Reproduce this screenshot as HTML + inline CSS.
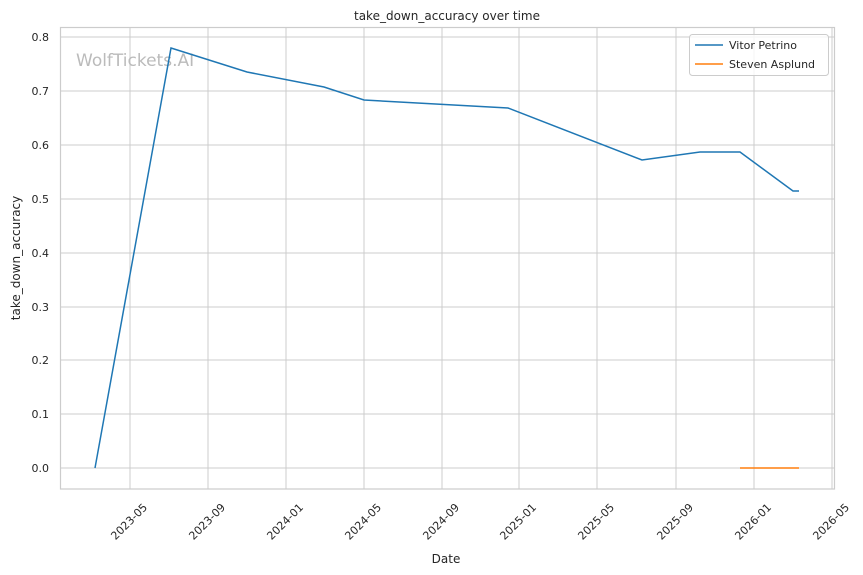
<!DOCTYPE html>
<html><head><meta charset="utf-8"><style>body{margin:0;background:#fff}svg{display:block}text{font-family:"DejaVu Sans","Liberation Sans",sans-serif;fill:#262626}</style></head><body>
<svg width="863" height="575" xmlns="http://www.w3.org/2000/svg">
<rect width="863" height="575" fill="#fff"/>
<g stroke="#cccccc" stroke-width="1">
<line x1="130" y1="27" x2="130" y2="489"/><line x1="208" y1="27" x2="208" y2="489"/><line x1="286" y1="27" x2="286" y2="489"/><line x1="364" y1="27" x2="364" y2="489"/><line x1="442" y1="27" x2="442" y2="489"/><line x1="519" y1="27" x2="519" y2="489"/><line x1="597" y1="27" x2="597" y2="489"/><line x1="676" y1="27" x2="676" y2="489"/><line x1="754" y1="27" x2="754" y2="489"/><line x1="832" y1="27" x2="832" y2="489"/>
<line x1="60" y1="37" x2="835" y2="37"/><line x1="60" y1="91" x2="835" y2="91"/><line x1="60" y1="145" x2="835" y2="145"/><line x1="60" y1="199" x2="835" y2="199"/><line x1="60" y1="253" x2="835" y2="253"/><line x1="60" y1="307" x2="835" y2="307"/><line x1="60" y1="360" x2="835" y2="360"/><line x1="60" y1="414" x2="835" y2="414"/><line x1="60" y1="468" x2="835" y2="468"/>
</g>
<rect x="60.5" y="27.5" width="774" height="461.5" fill="none" stroke="#cccccc" stroke-width="1.2"/>
<g font-size="11" text-anchor="end">
<text x="49" y="41">0.8</text><text x="49" y="95">0.7</text><text x="49" y="149">0.6</text><text x="49" y="203">0.5</text><text x="49" y="257">0.4</text><text x="49" y="311">0.3</text><text x="49" y="364">0.2</text><text x="49" y="418">0.1</text><text x="49" y="472">0.0</text>
</g>
<g font-size="11" text-anchor="end">
<text transform="translate(148,508) rotate(-45)">2023-05</text>
<text transform="translate(226,508) rotate(-45)">2023-09</text>
<text transform="translate(304,508) rotate(-45)">2024-01</text>
<text transform="translate(382,508) rotate(-45)">2024-05</text>
<text transform="translate(460,508) rotate(-45)">2024-09</text>
<text transform="translate(537,508) rotate(-45)">2025-01</text>
<text transform="translate(615,508) rotate(-45)">2025-05</text>
<text transform="translate(694,508) rotate(-45)">2025-09</text>
<text transform="translate(772,508) rotate(-45)">2026-01</text>
<text transform="translate(850,508) rotate(-45)">2026-05</text>
</g>
<text x="446" y="563" font-size="12" text-anchor="middle">Date</text>
<text transform="translate(20,258) rotate(-90)" font-size="12" text-anchor="middle">take_down_accuracy</text>
<text x="447" y="20" font-size="12" text-anchor="middle">take_down_accuracy over time</text>
<text x="76" y="66" font-size="17" style="fill:#bbbbbb">WolfTickets.AI</text>
<polyline fill="none" stroke="#1f77b4" stroke-width="1.5" points="95,468 171,48 247,72 324,87 364,100 508,108 642,160 700,152 740,152 793,191 799,191"/>
<line x1="740" y1="468" x2="799" y2="468" stroke="#ff7f0e" stroke-width="1.5"/>
<rect x="689.5" y="34.5" width="139" height="41" rx="3" fill="#fff" fill-opacity="0.8" stroke="#cccccc"/>
<line x1="695" y1="45" x2="723" y2="45" stroke="#1f77b4" stroke-width="1.5"/>
<text x="729" y="49" font-size="11">Vitor Petrino</text>
<line x1="695" y1="64" x2="723" y2="64" stroke="#ff7f0e" stroke-width="1.5"/>
<text x="729" y="68" font-size="11">Steven Asplund</text>
</svg>
</body></html>
